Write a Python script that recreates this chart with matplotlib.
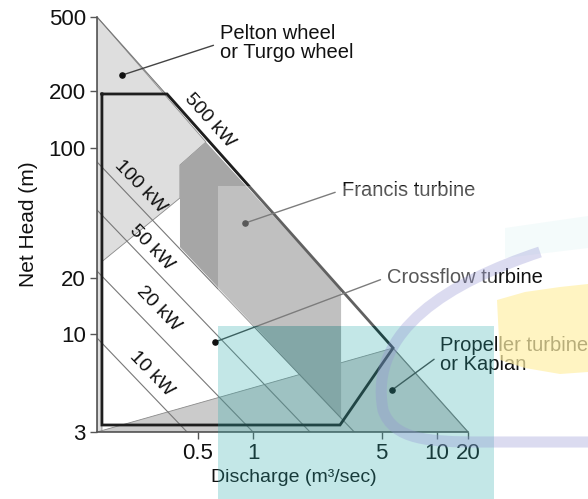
import numpy as np
import matplotlib
matplotlib.use('Agg')
import matplotlib.pyplot as plt
from matplotlib.patches import Polygon, Rectangle, PathPatch
from matplotlib.path import Path

plt.rcParams['font.family'] = ['Liberation Sans', 'DejaVu Sans']

# ---- data (discharge Q in m3/s, net head H in m) ----
q_lim = [0.142, 20]
h_lim = [3, 500]
x_ticks = [0.5, 1, 5, 10, 20]
y_ticks = [3, 10, 20, 100, 200, 500]

pelton_q = [0.142, 0.555, 0.401, 0.401, 0.151, 0.151, 0.142]
pelton_h = [500, 107, 80.6, 53.7, 24.5, 3, 3]

francis_q = [0.401, 0.555, 3.01, 3.01, 0.401]
francis_h = [80.6, 107, 17.3, 3.56, 29.3]

kaplan_q = [0.142, 5.77, 20]
kaplan_h = [3, 8.45, 3]

crossflow_q = [0.151, 0.341, 5.77, 2.97, 0.151, 0.151]
crossflow_h = [193.5, 193.5, 8.45, 3.27, 3.27, 193.5]

# 500 kW limit line (edge of the whole chart)
limit_q = [0.142, 20]
limit_h = [500, 3]

power_names = ['10 kW', '20 kW', '50 kW', '100 kW']
power_q_start = [0.142, 0.142, 0.142, 0.142]
power_h_start = [9.56, 21.8, 46.3, 83.7]
power_q_end = [0.438, 1.0, 2.04, 3.55]
power_h_end = [3, 3, 3, 3]

# where the kW labels sit
label_names = ['500 kW', '100 kW', '50 kW', '20 kW', '10 kW']
label_q = [0.577, 0.245, 0.279, 0.305, 0.279]
label_h = [138.6, 61.5, 29.0, 13.7, 6.13]
label_rot = [-48, -46, -46, -46, -46]

turbine_names = ['Pelton wheel\nor Turgo wheel', 'Francis turbine',
                 'Crossflow turbine', 'Propeller turbine\nor Kaplan']
turbine_q = [0.194, 0.905, 0.622, 5.69]
turbine_h = [244, 39.4, 9.1, 5.03]
# text anchor in axes fraction
turbine_tx = [(0.332, 0.937), (0.660, 0.583), (0.782, 0.373), (0.925, 0.186)]


# the printed axis squeezes the 10-20 decade
K = 0.56


def fwd(x):
    lx = np.log10(np.clip(np.asarray(x, float), 1e-9, None))
    return np.where(lx <= 1, lx, 1 + (lx - 1) * K)


def inv(y):
    y = np.asarray(y, float)
    return np.where(y <= 1, 10 ** y, 10 ** (1 + (y - 1) / K))


fig = plt.figure(figsize=(5.88, 4.99), dpi=100)
ax = fig.add_axes([0.165, 0.1343, 0.631, 0.8317])
ax.set_xscale('function', functions=(fwd, inv))
ax.set_yscale('log')
ax.set_xlim(q_lim)
ax.set_ylim(h_lim)

edge = '#8a8a8a'
ax.add_patch(Polygon(np.column_stack([pelton_q, pelton_h]), closed=True,
                     fc='#dedede', ec=edge, lw=0.6, zorder=1))
ax.add_patch(Polygon(np.column_stack([kaplan_q, kaplan_h]), closed=True,
                     fc='#cbcbcb', ec=edge, lw=0.6, zorder=1))
ax.add_patch(Polygon(np.column_stack([francis_q, francis_h]), closed=True,
                     fc='#a6a6a6', ec='none', lw=0, zorder=1.2))

for q0, h0, q1, h1 in zip(power_q_start, power_h_start, power_q_end, power_h_end):
    ax.plot([q0, q1], [h0, h1], color='#787878', lw=0.8, zorder=2)
ax.plot(limit_q, limit_h, color='#787878', lw=0.8, zorder=2)

ax.plot(crossflow_q, crossflow_h, color='#1e1e1e', lw=2.0, zorder=3,
        solid_joinstyle='miter')

for name, q, h, r in zip(label_names, label_q, label_h, label_rot):
    ax.text(q, h, name, rotation=r, ha='center', va='center', fontsize=14,
            color='#111111', rotation_mode='anchor', zorder=4)

for name, q, h, t in zip(turbine_names, turbine_q, turbine_h, turbine_tx):
    ax.annotate(name, xy=(q, h), xytext=t, textcoords='axes fraction',
                ha='left', va='center', fontsize=14.5, color='#111111',
                linespacing=1.0, annotation_clip=False,
                arrowprops=dict(arrowstyle='-', color='#444444', lw=1.0,
                                relpos=(0, 0.5), shrinkA=3, shrinkB=0))
ax.scatter(turbine_q, turbine_h, s=14, color='#111111', zorder=5)

for s in ['top', 'right']:
    ax.spines[s].set_visible(False)
for s in ['left', 'bottom']:
    ax.spines[s].set_color('#555555')
    ax.spines[s].set_linewidth(1.2)
ax.set_xticks(x_ticks)
ax.set_xticklabels([str(v) for v in x_ticks])
ax.set_yticks(y_ticks)
ax.set_yticklabels([str(v) for v in y_ticks])
ax.minorticks_off()
ax.tick_params(direction='out', length=5, width=1.0, color='#555555',
               labelsize=16, labelcolor='#111111', pad=3)
ax.set_xlabel('Discharge (m³/sec)', fontsize=14, color='#111111')
ax.set_ylabel('Net Head (m)', fontsize=15, color='#111111')
ax.xaxis.set_label_coords(0.531, -0.09)
ax.yaxis.set_label_coords(-0.16, 0.5)
ax.set_facecolor('white')


# ---- watermark overlay seen on the source image (figure pixels) ----
def px(x, y):
    return (x / 588, 1 - y / 499)


fig.add_artist(Rectangle(px(218, 326), 276 / 588, 140 / 499,
                         transform=fig.transFigure, fc='white', alpha=0.3,
                         ec='none', zorder=10))
fig.add_artist(Rectangle(px(218, 499), 276 / 588, 173 / 499,
                         transform=fig.transFigure, fc='#2aabab', alpha=0.28,
                         ec='none', zorder=10))
blob = [px(497, 300), px(525, 292), px(560, 287), px(588, 284),
        px(588, 372), px(560, 374), px(525, 368), px(500, 360)]
fig.add_artist(Polygon(blob, closed=True, transform=fig.transFigure,
                       fc='#fff0a8', alpha=0.7, ec='none', zorder=10))
band = [px(505, 228), px(588, 216), px(588, 248), px(505, 258)]
fig.add_artist(Polygon(band, closed=True, transform=fig.transFigure,
                       fc='#a8e0e0', alpha=0.12, ec='none', zorder=10))
arc = Path([px(540, 252), px(450, 282), px(368, 330), px(383, 410),
            px(393, 440), px(430, 442), px(480, 442), px(588, 442)],
           [Path.MOVETO, Path.CURVE4, Path.CURVE4, Path.CURVE4,
            Path.CURVE4, Path.CURVE4, Path.CURVE4, Path.LINETO])
fig.add_artist(PathPatch(arc, transform=fig.transFigure, fill=False,
                         ec='#9494d4', lw=8, alpha=0.33, zorder=11,
                         capstyle='butt'))

fig.savefig('out.png', dpi=100)
